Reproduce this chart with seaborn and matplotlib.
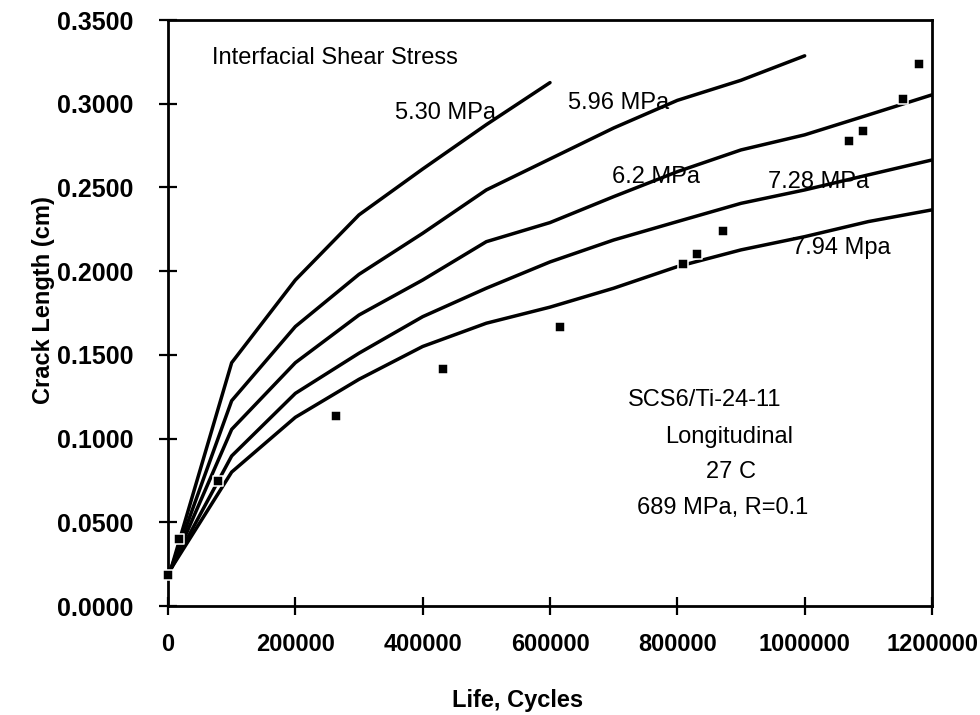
import matplotlib
matplotlib.use("Agg")
import matplotlib.pyplot as plt
import seaborn as sns
import pandas as pd

# ---- data ----
cycles = [5000, 100000, 200000, 300000, 400000, 500000, 600000,
          700000, 800000, 900000, 1000000, 1100000, 1200000]

crack_530 = [0.0225, 0.1453, 0.1947, 0.2336, 0.2610, 0.2875, 0.3126]
crack_596 = [0.0225, 0.1226, 0.1669, 0.1981, 0.2226, 0.2485, 0.2670,
             0.2855, 0.3020, 0.3140, 0.3286]
crack_620 = [0.0225, 0.1055, 0.1453, 0.1738, 0.1947, 0.2176, 0.2290,
             0.2445, 0.2594, 0.2724, 0.2814, 0.2933, 0.3053]
crack_728 = [0.0225, 0.0896, 0.1270, 0.1510, 0.1728, 0.1898, 0.2055,
             0.2186, 0.2296, 0.2405, 0.2485, 0.2575, 0.2664]
crack_794 = [0.0225, 0.0800, 0.1127, 0.1354, 0.1550, 0.1689, 0.1785,
             0.1898, 0.2027, 0.2127, 0.2206, 0.2296, 0.2366]

curve_labels = ["5.30 MPa", "5.96 MPa", "6.2 MPa", "7.28 MPa", "7.94 Mpa"]

test_cycles = [0, 17700, 79000, 263400, 431400, 615700, 809300, 830300,
               871200, 1069600, 1092000, 1153900, 1180000]
test_crack = [0.0185, 0.0398, 0.0749, 0.1135, 0.1416, 0.1669, 0.2043,
              0.2101, 0.2242, 0.2780, 0.2838, 0.3029, 0.3238]

x_ticks = [0, 200000, 400000, 600000, 800000, 1000000, 1200000]
y_ticks = [0.0, 0.05, 0.10, 0.15, 0.20, 0.25, 0.30, 0.35]

# ---- build long table ----
rows = []
for lab, ys in zip(curve_labels, [crack_530, crack_596, crack_620, crack_728, crack_794]):
    for i, y in enumerate(ys):
        rows.append({"cycles": cycles[i], "crack": y, "tau": lab, "order": i})
curves = pd.DataFrame(rows)
pts = pd.DataFrame({"cycles": test_cycles, "crack": test_crack})

sns.set_theme(style="white")
plt.rcParams["font.family"] = ["Liberation Sans", "DejaVu Sans"]

fig = plt.figure(figsize=(9.8, 7.15), dpi=100)
ax = fig.add_axes([168 / 980, 1 - 606 / 715, 764 / 980, 586 / 715])

sns.lineplot(data=curves, x="cycles", y="crack", hue="tau", units="tau",
             estimator=None, sort=False,
             palette={l: "black" for l in curve_labels},
             linewidth=2.5, legend=False, ax=ax, zorder=2)
sns.scatterplot(data=pts, x="cycles", y="crack", marker="s", s=60,
                color="black", edgecolor="white", linewidth=1.1,
                ax=ax, zorder=3, clip_on=False)

ax.set_xlim(0, 1200000)
ax.set_ylim(0, 0.35)
ax.set_xticks(x_ticks)
ax.set_yticks(y_ticks)
ax.set_xticklabels([str(v) for v in x_ticks])
ax.set_yticklabels([f"{v:.4f}" for v in y_ticks])

for sp in ax.spines.values():
    sp.set_visible(True)
    sp.set_color("black")
    sp.set_linewidth(2.0)

ax.tick_params(axis="both", which="major", direction="inout", length=13.5,
               width=1.6, color="black", labelcolor="black",
               bottom=True, left=True, top=False, right=False)
ax.tick_params(axis="y", pad=18, labelsize=18)
ax.tick_params(axis="x", pad=13, labelsize=17)
for t in ax.get_xticklabels() + ax.get_yticklabels():
    t.set_fontweight("bold")

ax.set_xlabel("Life, Cycles", fontsize=17, fontweight="bold", color="black")
ax.set_ylabel("Crack Length (cm)", fontsize=17, fontweight="bold", color="black")
ax.xaxis.set_label_coords(0.458, -0.142)
ax.yaxis.set_label_coords(-0.148, 0.522)

txt = dict(fontsize=17, color="black", va="center")
ax.text(68600, 0.3273, "Interfacial Shear Stress", ha="left", **txt)
label_pos = [(356500, 0.2945), (628300, 0.3004), (696900, 0.2564),
             (942400, 0.2534), (979600, 0.2136)]
for lab, (lx, ly) in zip(curve_labels, label_pos):
    ax.text(lx, ly, lab, ha="left", **txt)

ax.text(843500, 0.1230, "SCS6/Ti-24-11", ha="center", **txt)
ax.text(881200, 0.1009, "Longitudinal", ha="center", **txt)
ax.text(884300, 0.0800, "27 C", ha="center", **txt)
ax.text(871700, 0.0585, "689 MPa, R=0.1", ha="center", **txt)

ax.grid(False)
fig.savefig("out.png", dpi=100, facecolor="white")
